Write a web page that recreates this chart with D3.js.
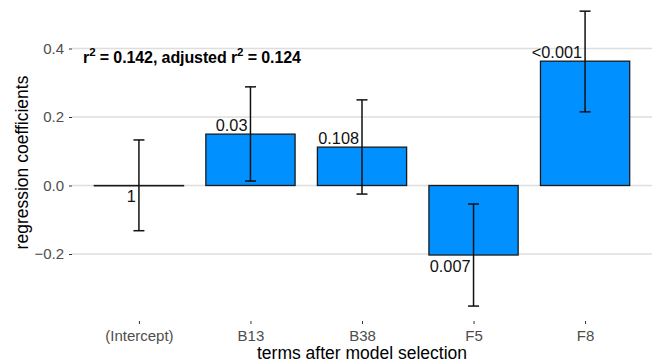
<!DOCTYPE html>
<html>
<head>
<meta charset="utf-8">
<script src="https://cdn.jsdelivr.net/npm/d3@7"></script>
<style>
  body { margin: 0; background: #fff; }
  text { font-family: "Liberation Sans", Arial, sans-serif; }
</style>
</head>
<body>
<svg id="chart" width="660" height="363"></svg>
<script>
const terms = ["(Intercept)", "B13", "B38", "F5", "F8"];
const coef = [-0.001, 0.150, 0.112, -0.203, 0.363];
const errLow = [-0.132, 0.013, -0.025, -0.352, 0.215];
const errHigh = [0.133, 0.288, 0.250, -0.054, 0.509];
const pLabels = ["1", "0.03", "0.108", "0.007", "<0.001"];
const yTicks = [-0.2, 0.0, 0.2, 0.4];

const svg = d3.select("#chart");
const mLeft = 72, mRight = 652, mTop = 5, mBottom = 320;

// ggplot-like discrete expansion: 0.6 step each side
const x = d3.scalePoint().domain(terms).range([mLeft, mRight]).padding(0.6);
const bw = x.step();

const y = d3.scaleLinear().domain([-0.2, 0.4]).range([254, 48.5]);

// grid
svg.append("g")
  .selectAll("line")
  .data(yTicks)
  .join("line")
  .attr("x1", mLeft).attr("x2", mRight)
  .attr("y1", d => y(d)).attr("y2", d => y(d))
  .style("stroke", "#dedede")
  .style("stroke-width", 1.3);

// y axis
const yAxis = svg.append("g")
  .attr("transform", `translate(${mLeft},0)`)
  .call(d3.axisLeft(y).tickValues(yTicks).tickSize(3).tickPadding(5)
    .tickFormat(d => d3.format(".1f")(d).replace("-", "\u2212")));
yAxis.select(".domain").remove();
yAxis.selectAll("line").style("stroke", "#333").style("stroke-width", 1);
yAxis.selectAll("text").style("font-size", "15px").style("fill", "#4d4d4d");

// x axis
const xAxis = svg.append("g")
  .attr("transform", `translate(0,${mBottom})`)
  .call(d3.axisBottom(x).tickSize(3).tickPadding(7).tickSizeOuter(0));
xAxis.select(".domain").remove();
xAxis.selectAll("line").style("stroke", "#333").attr("y1", 1).attr("y2", 4);
xAxis.selectAll("text").style("font-size", "15px").style("fill", "#4d4d4d");

// bars
svg.append("g")
  .selectAll("rect")
  .data(terms)
  .join("rect")
  .attr("x", d => x(d) - bw * 0.4)
  .attr("width", bw * 0.8)
  .attr("y", (d, i) => y(Math.max(0, coef[i])))
  .attr("height", (d, i) => Math.abs(y(coef[i]) - y(0)))
  .style("fill", "#0090ff")
  .style("stroke", "#1a1a1a")
  .style("stroke-width", 1.3);

// error bars
const eb = svg.append("g").style("stroke", "#111").style("stroke-width", 1.5);
terms.forEach((t, i) => {
  const c = x(t), w = 5.5;
  eb.append("line").attr("x1", c).attr("x2", c).attr("y1", y(errLow[i])).attr("y2", y(errHigh[i]));
  eb.append("line").attr("x1", c - w).attr("x2", c + w).attr("y1", y(errLow[i])).attr("y2", y(errLow[i]));
  eb.append("line").attr("x1", c - w).attr("x2", c + w).attr("y1", y(errHigh[i])).attr("y2", y(errHigh[i]));
});

// p-value labels
svg.append("g")
  .selectAll("text")
  .data(terms)
  .join("text")
  .attr("x", d => x(d) - 3)
  .attr("y", (d, i) => coef[i] >= 0 ? y(coef[i]) - 3.5 : y(coef[i]) + 16.5)
  .attr("text-anchor", "end")
  .style("font-size", "16.3px")
  .style("fill", "#111")
  .text((d, i) => pLabels[i]);

// annotation
const ann = svg.append("text")
  .attr("x", 83).attr("y", 63)
  .style("font-size", "16px")
  .style("font-weight", "bold")
  .style("fill", "#000")
  .style("letter-spacing", "-0.1px");
ann.append("tspan").text("r");
ann.append("tspan").attr("dy", -7).style("font-size", "11.5px").text("2");
ann.append("tspan").attr("dy", 7).text(" = 0.142, adjusted r");
ann.append("tspan").attr("dy", -7).style("font-size", "11.5px").text("2");
ann.append("tspan").attr("dy", 7).text(" = 0.124");

// axis titles
svg.append("text")
  .attr("x", (mLeft + mRight) / 2).attr("y", 359)
  .attr("text-anchor", "middle")
  .style("font-size", "17.5px")
  .style("fill", "#000")
  .text("terms after model selection");

svg.append("text")
  .attr("transform", `translate(28,${(mTop + mBottom) / 2}) rotate(-90)`)
  .attr("text-anchor", "middle")
  .style("font-size", "17.5px")
  .style("fill", "#000")
  .text("regression coefficients");
</script>
</body>
</html>
